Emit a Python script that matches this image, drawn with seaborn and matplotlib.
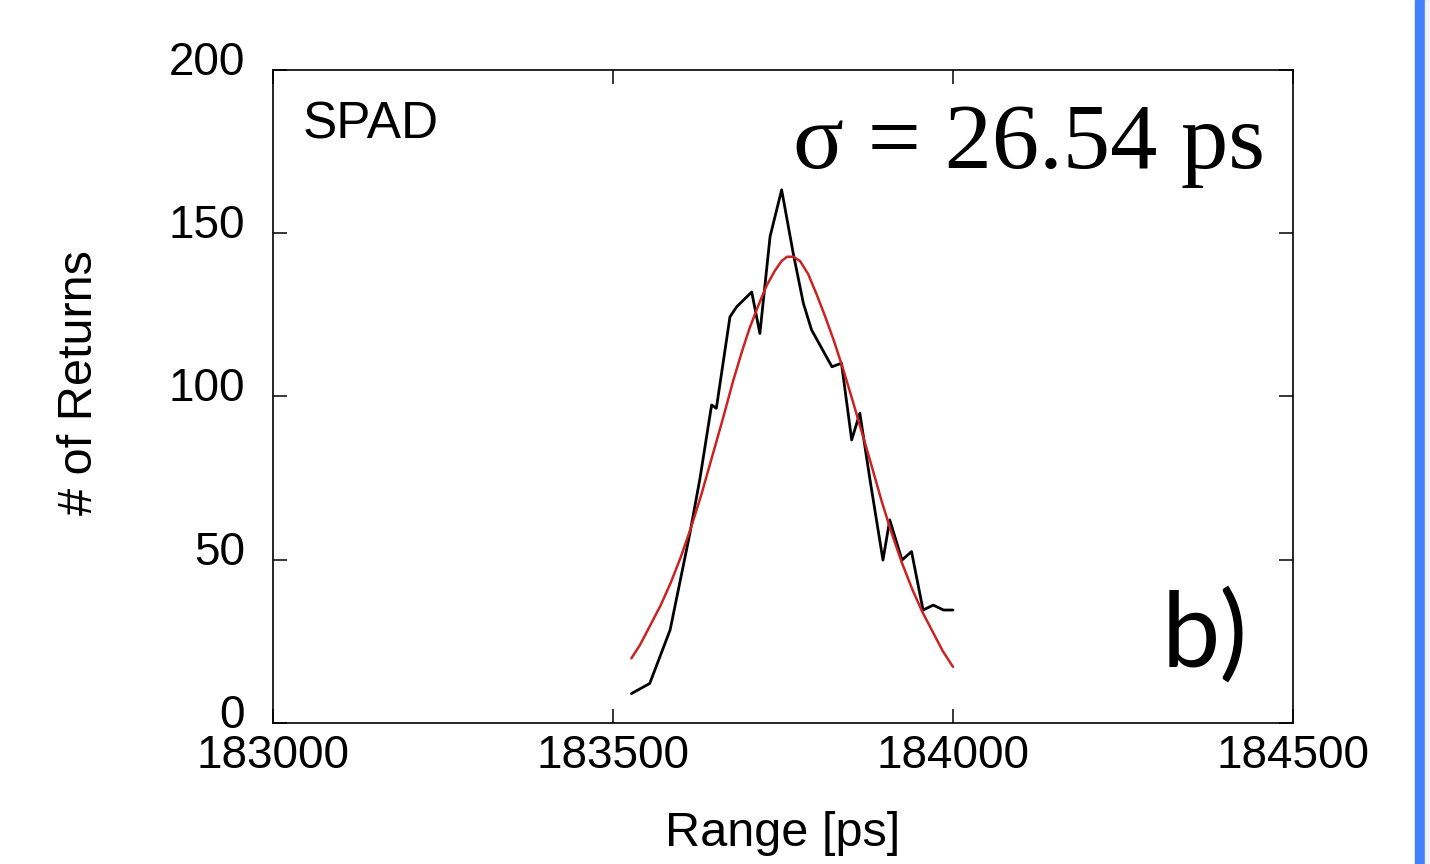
import pandas as pd
import matplotlib.pyplot as plt
import matplotlib.transforms as mtransforms
from matplotlib.patches import Rectangle
import seaborn as sns

# measured histogram (black)
range_ps = [183527, 183554, 183584, 183613, 183628, 183645, 183652, 183672, 183682,
            183704, 183716, 183731, 183748, 183765, 183780, 183792, 183822, 183836,
            183851, 183863, 183878, 183897, 183907, 183925, 183939, 183956, 183971,
            183986, 184000]
returns = [9.0, 12.1, 28.5, 58, 75, 97.4, 96.4, 124.4, 127.5,
           132, 119.3, 149, 163.3, 143.9, 128.5, 120.4, 109.1, 110.2,
           86.7, 94.9, 74.4, 49.9, 62.2, 49.9, 52.5, 34.6, 36.1,
           34.6, 34.6]

# gaussian fit (red)
fit_x = [183527, 183540, 183555, 183570, 183585, 183600, 183615, 183630, 183645,
         183660, 183677, 183690, 183701, 183714, 183726, 183738, 183748, 183756,
         183765, 183775, 183787, 183800, 183812, 183825, 183839, 183852, 183866,
         183880, 183895, 183910, 183925, 183940, 183955, 183970, 183985, 184000]
fit_y = [19.8, 24, 30, 36, 43, 51, 60, 70, 81,
         92, 105, 114, 121, 128, 134, 138.5, 141.5, 142.8,
         142.8, 141.5, 137.5, 131, 124.5, 117, 108, 99, 89,
         79, 68, 58, 49, 41, 34, 28, 22, 17.2]

x_ticks = [183000, 183500, 184000, 184500]
y_ticks = [0, 50, 100, 150, 200]

df = pd.DataFrame({'Range': range_ps, 'Returns': returns})
df_fit = pd.DataFrame({'Range': fit_x, 'Returns': fit_y})

sns.set_style('ticks')
plt.rcParams['font.family'] = ['Liberation Sans', 'DejaVu Sans']
plt.rcParams['text.color'] = 'black'
plt.rcParams['axes.labelcolor'] = 'black'

fig = plt.figure(figsize=(14.3, 8.64), dpi=100)
ax = fig.add_axes([0.1909, 0.1632, 0.9042 - 0.1909, 0.919 - 0.1632])

sns.lineplot(data=df, x='Range', y='Returns', color='black', lw=2.0, ax=ax, sort=False)
sns.lineplot(data=df_fit, x='Range', y='Returns', color='#cc2222', lw=1.8, ax=ax, sort=False)

ax.set_xlim(183000, 184500)
ax.set_ylim(0, 200)
ax.set_xticks(x_ticks)
ax.set_yticks(y_ticks)
ax.set_xticklabels([str(t) for t in x_ticks])
ax.set_yticklabels([str(t) for t in y_ticks])
ax.tick_params(direction='in', length=10, width=1.1, labelsize=33, top=True, right=True,
               colors='black')
ax.tick_params(axis='x', pad=8)
ax.tick_params(axis='y', pad=20)
for s in ax.spines.values():
    s.set_linewidth(1.2)
    s.set_color('black')

# y labels sit a bit above their ticks
shift = mtransforms.ScaledTranslation(0, 12 / 100, fig.dpi_scale_trans)
for lab in ax.get_yticklabels():
    lab.set_transform(lab.get_transform() + shift)

ax.set_xlabel('Range [ps]', fontsize=35, labelpad=24)
ax.set_ylabel('# of Returns', fontsize=35)
ax.yaxis.set_label_coords(-0.168, 0.521)

ax.text(0.029, 0.915, 'SPAD', transform=ax.transAxes, fontsize=37, va='center', ha='left')
ax.text(0.9725, 0.85, 'σ = 26.54 ps', transform=ax.transAxes, fontsize=68,
        ha='right', va='baseline', family=['Liberation Serif', 'DejaVu Serif'])
ax.text(0.871, 0.133, 'b)', transform=ax.transAxes, fontsize=75, ha='left', va='center',
        family=['Lato', 'DejaVu Sans'])

# screenshot edge bar
fig.patches.append(Rectangle((1415 / 1430, 0), 10 / 1430, 1, transform=fig.transFigure,
                             color='#4080ff', zorder=0))
fig.patches.append(Rectangle((1425 / 1430, 0), 5 / 1430, 1, transform=fig.transFigure,
                             color='#eef3ff', zorder=0))

fig.savefig('out.png', dpi=100)
